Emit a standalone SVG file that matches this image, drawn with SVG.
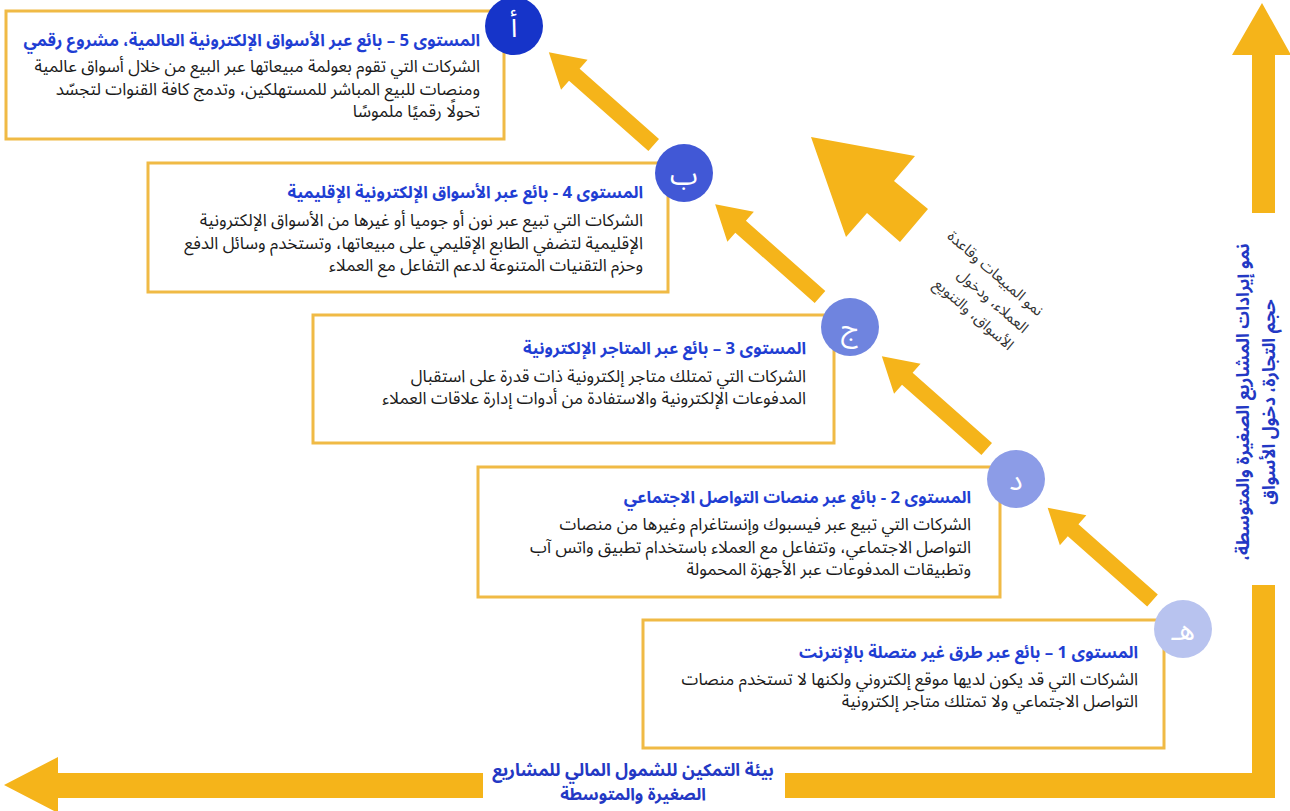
<svg xmlns="http://www.w3.org/2000/svg" width="1290" height="811" viewBox="0 0 1290 811">
<style>
.box{fill:#ffffff;stroke:#F0BA45;stroke-width:3}
.ttl{font-family:"Noto Sans Arabic","Noto Sans","DejaVu Sans",sans-serif;font-size:16.8px;font-weight:bold;fill:#1F3ED3;direction:rtl;text-anchor:start}
.bdy{font-family:"Noto Sans Arabic","Noto Sans","DejaVu Sans",sans-serif;font-size:17px;fill:#1a1a1a;direction:rtl;text-anchor:start}
.ltr{font-family:"Noto Sans Arabic","Noto Sans","DejaVu Sans",sans-serif;font-size:28px;fill:#ffffff;text-anchor:middle}
.axis{font-family:"Noto Sans Arabic","Noto Sans","DejaVu Sans",sans-serif;font-size:17.5px;font-weight:bold;fill:#2338C4;text-anchor:middle;direction:rtl}
.note{font-family:"Noto Sans Arabic","Noto Sans","DejaVu Sans",sans-serif;font-size:15px;fill:#333333;direction:rtl;text-anchor:start}
.arr{fill:#F5B41A}
</style>
<defs>
<polygon id="step" points="0,-8 106,-8 106,-20 140,0 106,20 106,8 0,8"/>
</defs>

<g id="connectors">
<use href="#step" class="arr" transform="translate(1152.5,600.5) rotate(-138.5)"/>
<use href="#step" class="arr" transform="translate(986.7,449) rotate(-138.5)"/>
<use href="#step" class="arr" transform="translate(820,297) rotate(-138.5)"/>
<use href="#step" class="arr" transform="translate(653.7,145) rotate(-138.5)"/>
<polygon class="arr" points="811,137 915,156 894,181 928,209 900,242 867,213 846,237"/>
<polygon class="arr" points="1252,213 1252,55 1232,55 1262,3 1291,55 1275,55 1275,213"/>
<polygon class="arr" points="1252,585 1275,585 1275,798 785,798 785,773 1252,773"/>
<polygon class="arr" points="483,773 58,773 58,757 4,785 58,813 58,798 483,798"/>
</g>

<g id="level5">
<rect class="box" x="6" y="11" width="498" height="128"/>
<text class="ttl" x="480" y="46">المستوى 5 – بائع عبر الأسواق الإلكترونية العالمية، مشروع رقمي</text>
<text class="bdy" x="480" y="72">الشركات التي تقوم بعولمة مبيعاتها عبر البيع من خلال أسواق عالمية</text>
<text class="bdy" x="480" y="95">ومنصات للبيع المباشر للمستهلكين، وتدمج كافة القنوات لتجسّد</text>
<text class="bdy" x="480" y="117">تحولًا رقميًا ملموسًا</text>
<circle cx="514" cy="26" r="29" fill="#1634C9"/>
<text class="ltr" x="514" y="37">أ</text>
</g>

<g id="level4">
<rect class="box" x="148" y="163" width="520" height="129"/>
<text class="ttl" x="643" y="198">المستوى 4 - بائع عبر الأسواق الإلكترونية الإقليمية</text>
<text class="bdy" x="643" y="226">الشركات التي تبيع عبر نون أو جوميا أو غيرها من الأسواق الإلكترونية</text>
<text class="bdy" x="643" y="249">الإقليمية لتضفي الطابع الإقليمي على مبيعاتها، وتستخدم وسائل الدفع</text>
<text class="bdy" x="643" y="271">وحزم التقنيات المتنوعة لدعم التفاعل مع العملاء</text>
<circle cx="684" cy="173" r="29" fill="#4158D6"/>
<text class="ltr" x="684" y="184">ب</text>
</g>

<g id="level3">
<rect class="box" x="313" y="315" width="521" height="128"/>
<text class="ttl" x="806" y="354">المستوى 3 – بائع عبر المتاجر الإلكترونية</text>
<text class="bdy" x="806" y="382">الشركات التي تمتلك متاجر إلكترونية ذات قدرة على استقبال</text>
<text class="bdy" x="806" y="404">المدفوعات الإلكترونية والاستفادة من أدوات إدارة علاقات العملاء</text>
<circle cx="850" cy="327" r="29" fill="#6F84DF"/>
<text class="ltr" x="850" y="338">ج</text>
</g>

<g id="level2">
<rect class="box" x="478" y="467" width="522" height="130"/>
<text class="ttl" x="971" y="503">المستوى 2 - بائع عبر منصات التواصل الاجتماعي</text>
<text class="bdy" x="971" y="530">الشركات التي تبيع عبر فيسبوك وإنستاغرام وغيرها من منصات</text>
<text class="bdy" x="971" y="553">التواصل الاجتماعي، وتتفاعل مع العملاء باستخدام تطبيق واتس آب</text>
<text class="bdy" x="971" y="575">وتطبيقات المدفوعات عبر الأجهزة المحمولة</text>
<circle cx="1016" cy="479" r="29" fill="#8C9CE7"/>
<text class="ltr" x="1016" y="490">د</text>
</g>

<g id="level1">
<rect class="box" x="643" y="620" width="521" height="128"/>
<text class="ttl" x="1138" y="658">المستوى 1 – بائع عبر طرق غير متصلة بالإنترنت</text>
<text class="bdy" x="1138" y="685">الشركات التي قد يكون لديها موقع إلكتروني ولكنها لا تستخدم منصات</text>
<text class="bdy" x="1138" y="707">التواصل الاجتماعي ولا تمتلك متاجر إلكترونية</text>
<circle cx="1183" cy="629" r="29" fill="#B8C3EF"/>
<text class="ltr" x="1183" y="640">هـ</text>
</g>

<g id="growth-note" transform="translate(1041,313) rotate(41)">
<text class="note" x="0" y="5">نمو المبيعات وقاعدة</text>
<text class="note" x="0" y="27.5">العملاء، ودخول</text>
<text class="note" x="0" y="50">الأسواق، والتنويع</text>
</g>

<g id="axis-vertical" transform="translate(1262,402) rotate(-90)">
<text class="axis" x="0" y="-13">نمو إيرادات المشاريع الصغيرة والمتوسطة،</text>
<text class="axis" x="0" y="13">حجم التجارة، دخول الأسواق</text>
</g>

<g id="axis-horizontal">
<text class="axis" x="633" y="776">بيئة التمكين للشمول المالي للمشاريع</text>
<text class="axis" x="633" y="800" style="font-size:17px">الصغيرة والمتوسطة</text>
</g>
</svg>
